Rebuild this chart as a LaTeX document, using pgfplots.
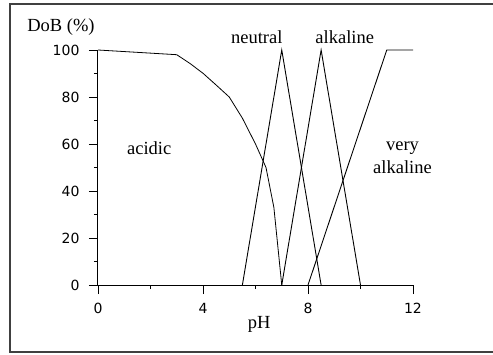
\documentclass[border=0pt]{standalone}
\usepackage{pgfplots}
\pgfplotsset{compat=1.18}
\usepackage{fontspec}
\setmainfont{Liberation Serif}
\newfontfamily\numfont{DejaVu Sans}
\begin{document}
\begin{tikzpicture}[x=1pt,y=1pt]
\useasboundingbox (0,0) rectangle (493,354);
\draw[line width=1.2pt,black!75] (500,350) -- (10,350) -- (10,2) -- (500,2);
\begin{axis}[
  at={(98pt,69pt)}, anchor=south west,
  scale only axis, width=315pt, height=235pt,
  xmin=0, xmax=12, ymin=0, ymax=100,
  axis x line=bottom, axis y line=left,
  axis line style={-, line width=1pt},
  xtick={0,4,8,12}, minor xtick={2,6,10},
  ytick={0,20,40,60,80,100}, minor ytick={10,30,50,70,90},
  tick align=outside,
  major tick length=9pt, minor tick length=4pt,
  tick style={line width=0.9pt, black},
  /pgf/number format/assume math mode=true,
  ticklabel style={font=\numfont\fontsize{14}{16}\selectfont},
  yticklabel style={xshift=-6pt},
  xticklabel style={yshift=-6pt},
  clip=false,
]
\addplot[black, line width=0.8pt] coordinates {(0,100) (1.5,99) (3,98) (3.5,94.3) (4,90.1) (4.5,85.1) (5,80) (5.5,71) (6,60) (6.4,50) (6.7,33) (7,0)};
\addplot[black, line width=0.9pt] coordinates {(5.5,0) (7,100) (8.5,0)};
\addplot[black, line width=0.9pt] coordinates {(7,0) (8.5,100) (10,0)};
\addplot[black, line width=0.9pt] coordinates {(8,0) (11,100) (12,100)};
\node[font=\fontsize{18.5}{21}\selectfont] at (axis cs:1.95,58.3) {acidic};
\node[font=\fontsize{18.5}{21}\selectfont] at (axis cs:6.05,105.5) {neutral};
\node[font=\fontsize{18.5}{21}\selectfont] at (axis cs:9.4,105.5) {alkaline};
\node[font=\fontsize{18.5}{23}\selectfont, align=center] at (axis cs:11.6,54) {very\\alkaline};
\node[font=\fontsize{18.5}{21}\selectfont] at (axis cs:6.14,-16.6) {pH};
\node[font=\fontsize{18.5}{21}\selectfont] at (axis cs:-1.41,109.8) {DoB (\%)};
\end{axis}
\end{tikzpicture}
\end{document}
